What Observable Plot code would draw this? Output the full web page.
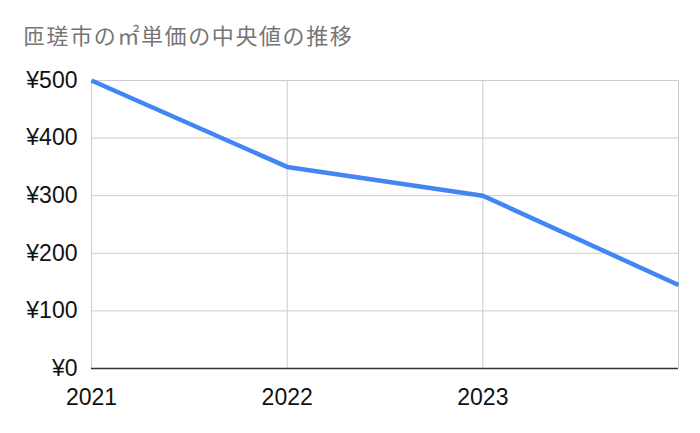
<!DOCTYPE html>
<html>
<head>
<meta charset="utf-8">
<script src="https://cdn.jsdelivr.net/npm/d3@7"></script>
<script src="https://cdn.jsdelivr.net/npm/@observablehq/plot@0.6"></script>
<style>
  html, body { margin: 0; padding: 0; background: #fff; }
  #title { height: 60px; box-sizing: border-box; padding: 20px 0 0 23px; font-family: "Noto Sans CJK JP", sans-serif; font-size: 22px; line-height: 28px; color: #757575; letter-spacing: 1.6px; white-space: nowrap; }
  #chart svg { display: block; }
</style>
</head>
<body>
<div id="title">匝瑳市の㎡単価の中央値の推移</div>
<div id="chart"></div>
<script>
const years = [2021, 2022, 2023, 2024];
const values = [500, 350, 300, 145];
const xTicks = [2021, 2022, 2023];
const yTicks = [0, 100, 200, 300, 400, 500];

const data = years.map((y, i) => ({year: y, value: values[i]}));

const chart = Plot.plot({
  width: 700,
  height: 373,
  marginTop: 20,
  marginBottom: 65,
  marginLeft: 91,
  marginRight: 22,
  style: {fontFamily: "'Liberation Sans', Arial, sans-serif", fontSize: "23px", color: "#111", background: "#fff"},
  x: {domain: [2021, 2024], ticks: xTicks, tickFormat: d => String(d), tickSize: 0, tickPadding: 20, label: null},
  y: {domain: [0, 500], ticks: yTicks, tickFormat: d => "¥" + d, tickSize: 0, tickPadding: 14, label: null},
  marks: [
    Plot.gridX(years, {stroke: "#cccccc", strokeOpacity: 1, strokeWidth: 1}),
    Plot.gridY(yTicks, {stroke: "#cccccc", strokeOpacity: 1, strokeWidth: 1}),
    Plot.ruleY([0], {stroke: "#333333", strokeWidth: 1.5}),
    Plot.line(data, {x: "year", y: "value", stroke: "#4285F4", strokeWidth: 4.5, strokeLinejoin: "round", strokeLinecap: "butt"}),
    Plot.axisX({ticks: xTicks, tickFormat: d => String(d), tickSize: 0, tickPadding: 20, fill: "#111"}),
    Plot.axisY({ticks: yTicks, tickFormat: d => "¥" + d, tickSize: 0, tickPadding: 14, fill: "#111"})
  ]
});
document.getElementById("chart").appendChild(chart);
</script>
</body>
</html>
